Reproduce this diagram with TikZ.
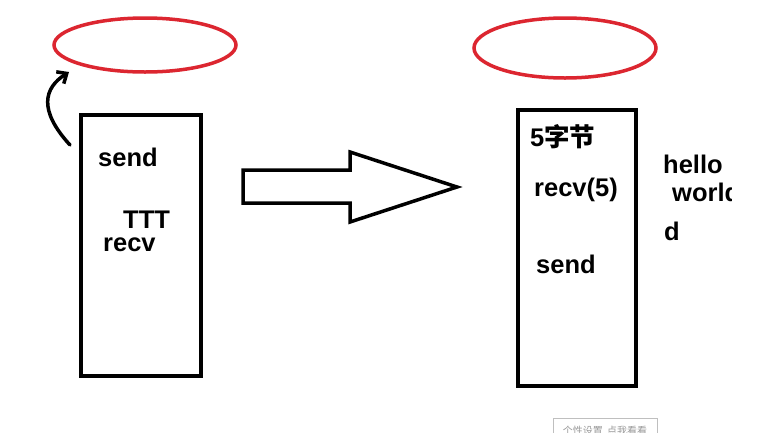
\documentclass[tikz,border=0pt]{standalone}
\usepackage{fontspec}
\setmainfont{Liberation Sans}
\newfontfamily\cjk{Noto Sans CJK SC}
\usetikzlibrary{arrows.meta}
\definecolor{ringred}{RGB}{220,38,48}
\tikzset{
  ring/.style={draw=ringred,line width=3.5pt},
  sock/.style={draw=black,line width=3.5pt},
  lbl/.style={font=\fontsize{25.5}{28}\selectfont\bfseries,inner sep=0pt,anchor=base west},
}
\begin{document}
\begin{tikzpicture}[x=1pt,y=-1pt]
\useasboundingbox (0,0) rectangle (757,432);
\fill[white] (0,0) rectangle (757,432);
% rings
\draw[ring] (145,45) ellipse [x radius=91,y radius=27];
\draw[ring] (565,48) ellipse [x radius=91,y radius=30];
% boxes
\node[sock,minimum width=120pt,minimum height=261pt,inner sep=0pt] (lbox) at (141,245.5) {};
\node[sock,minimum width=118pt,minimum height=276pt,inner sep=0pt] (rbox) at (577,248) {};
% curved arrow
\coordinate (cs) at (70,145);
\coordinate (ce) at (69,72);
\draw[line width=3.5pt,line cap=round,-{Straight Barb[length=8pt,width=14pt,line width=3.5pt]}] (cs) .. controls (38,110) and (44,88) .. (ce);
% big arrow
\draw[line width=3.5pt,line join=miter] (243,170) -- (350,170) -- (350,152) -- (457,187) -- (350,222) -- (350,203) -- (243,203) -- cycle;
% texts left
\node[lbl] (tsend) at (98,166) {send};
\node[lbl] (tttt) at (123,228) {TTT};
\node[lbl] (trecv) at (103,251) {recv};
% texts right
\node[lbl] (t5) at (530,146) {5{\cjk\bfseries 字节}};
\node[lbl] (trecv5) at (534,196) {recv(5)};
\node[lbl] (tsend2) at (536,273) {send};
\node[lbl] (thello) at (663,173) {hello};
\begin{scope}
\clip (660,180) rectangle (731,210);
\node[lbl] (tworl) at (672,201) {world};
\end{scope}
\node[lbl] (td) at (664,240) {d};
% bottom widget
\begin{scope}
\clip (540,400) rectangle (700,432);
\node[draw=gray!50,fill=white,minimum width=104pt,minimum height=26pt,anchor=north west,inner sep=0pt] (wbox) at (553,418) {};
\node[font=\cjk\fontsize{10}{12}\selectfont,text=gray!80,anchor=base] (wtxt) at (605,434) {个性设置\ \ 点我看看};
\end{scope}
\end{tikzpicture}
\end{document}
